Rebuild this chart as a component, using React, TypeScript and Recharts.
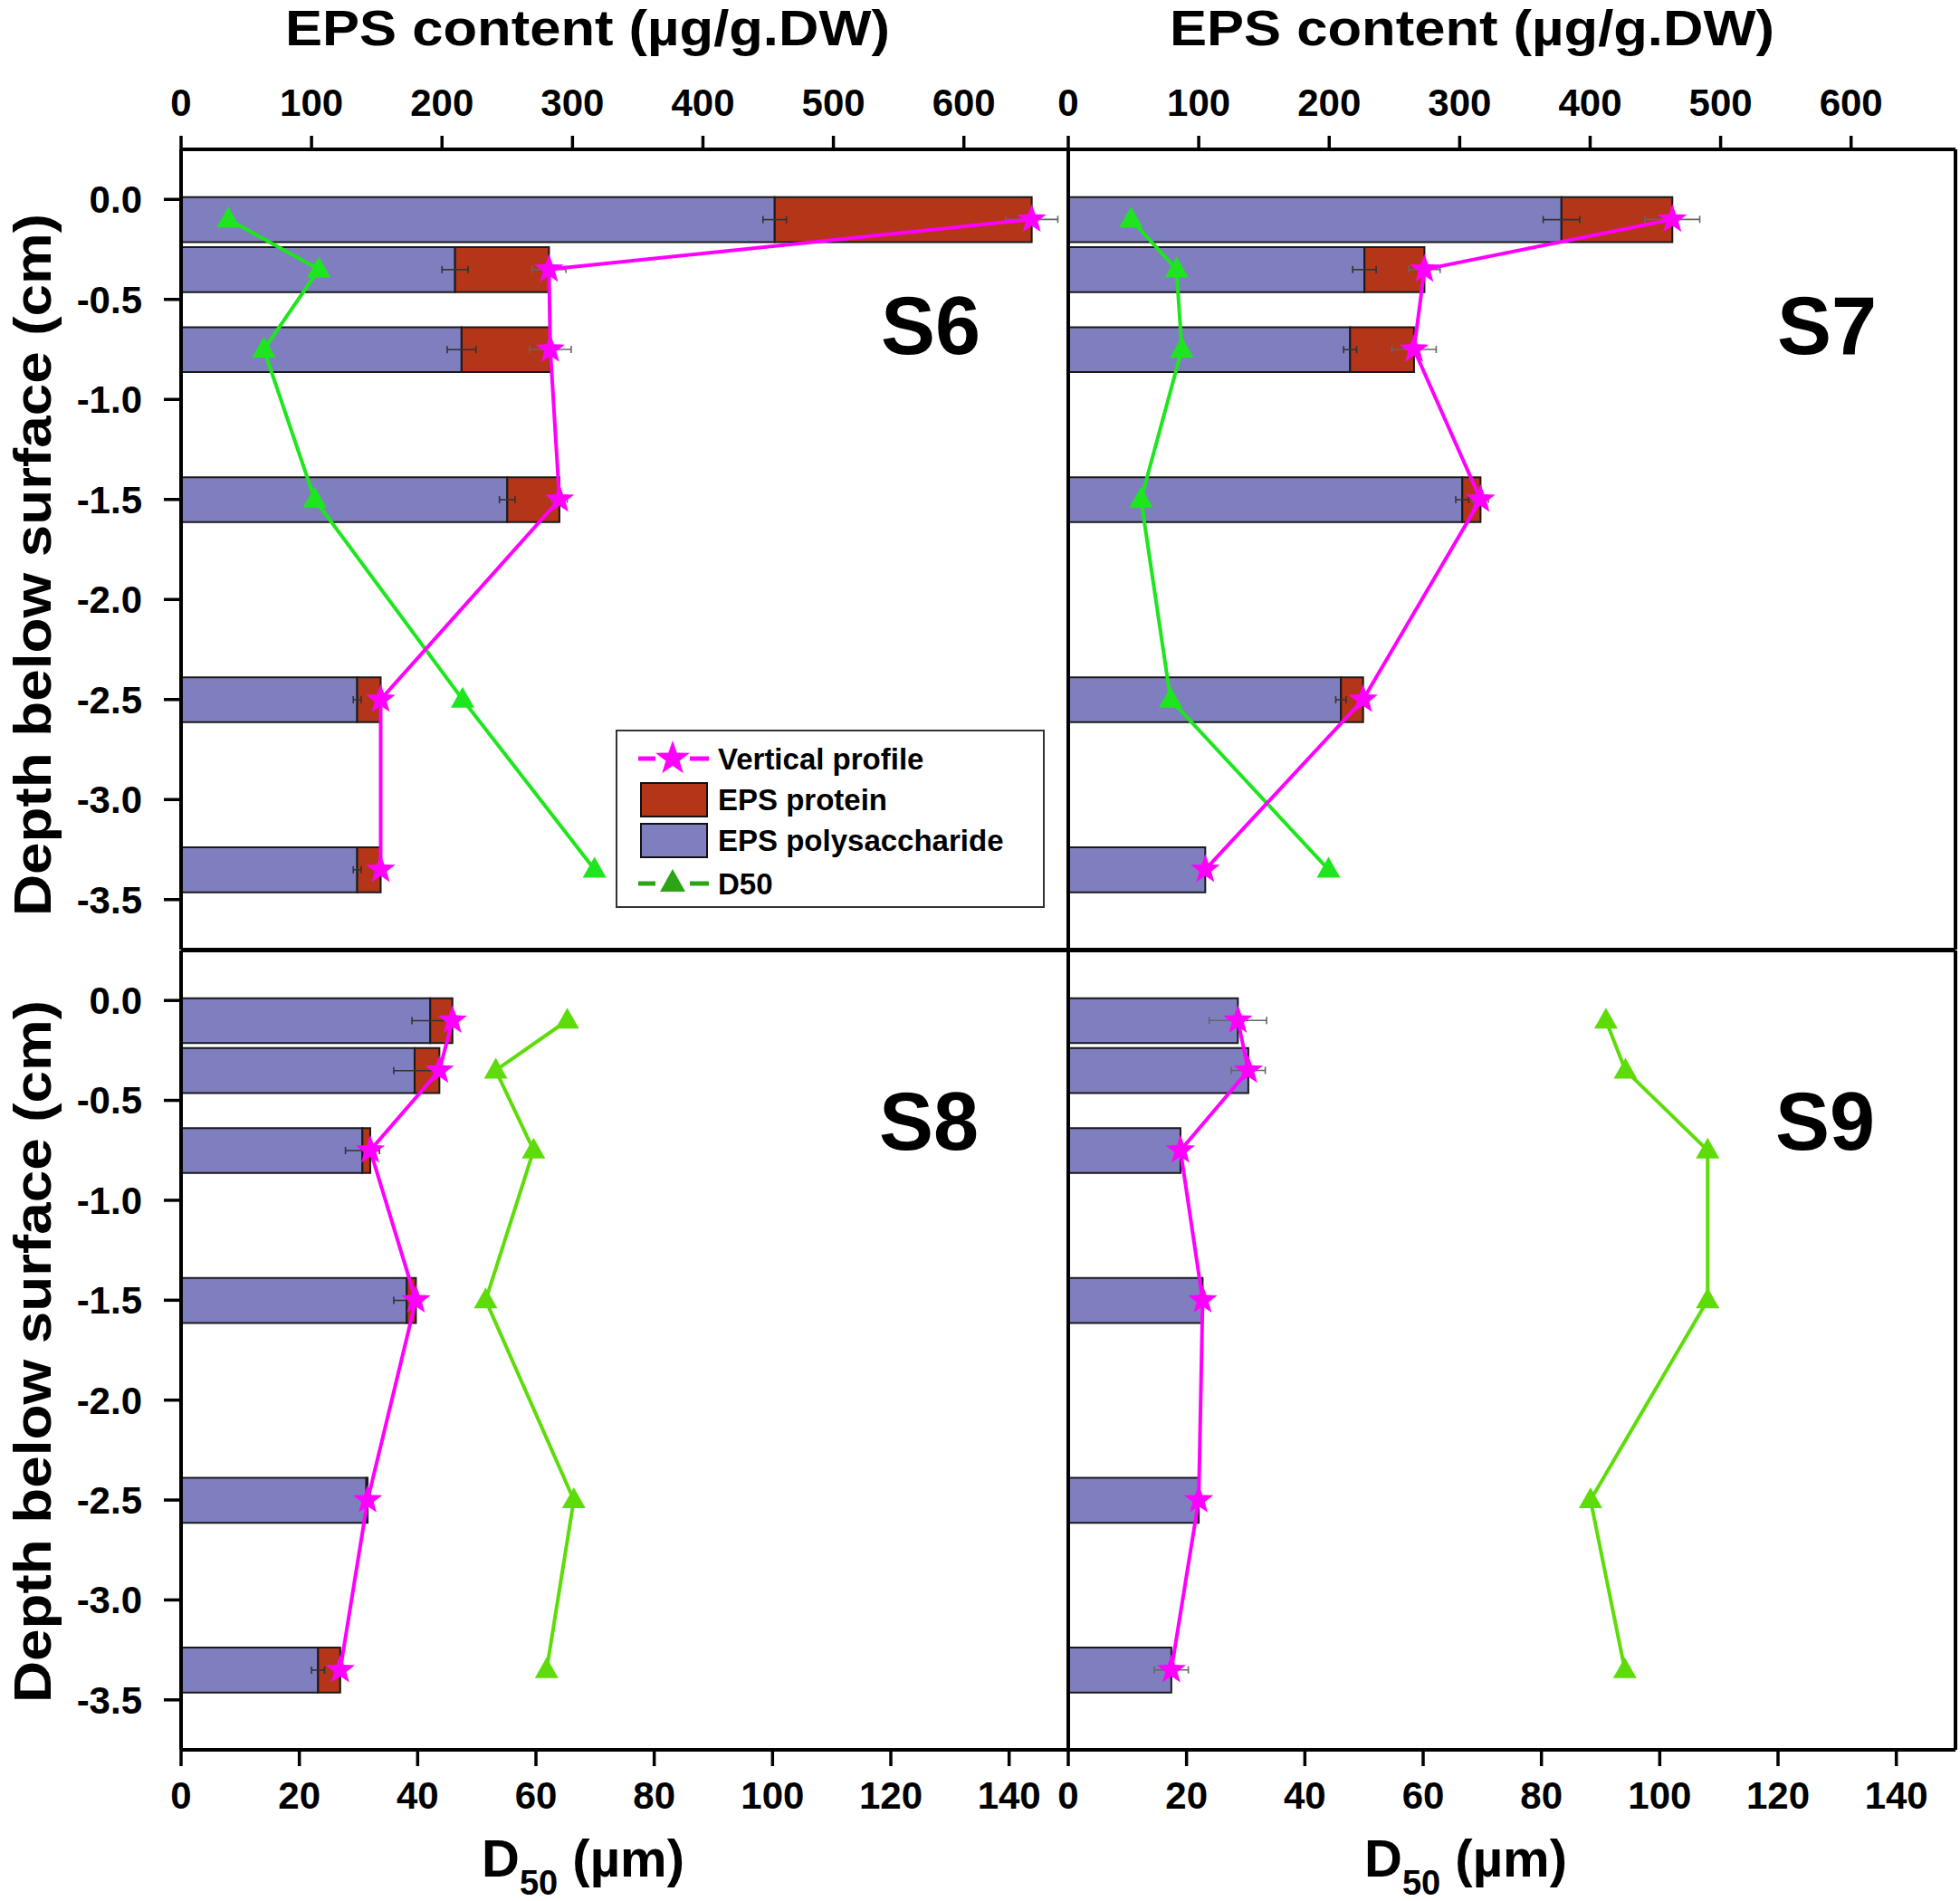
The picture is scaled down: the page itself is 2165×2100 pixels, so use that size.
import React from "react";
import { ComposedChart, Bar, Line, XAxis, YAxis, ErrorBar } from "recharts";

const FONT = '"Liberation Sans", Arial, Helvetica, sans-serif';

// depth of each sampled layer (cm, negative = below surface)
const depths = [-0.1, -0.35, -0.75, -1.5, -2.5, -3.35];

// S6
const s6Poly = [455, 210, 215, 250, 135, 135];
const s6Protein = [197, 72, 68, 40, 18, 18];
const s6PolyErr = [9, 10, 11, 6, 3, 3];
const s6TotalErr = [20, 13, 16, 6, 4, 4];
const s6D50 = [8.0, 23.3, 14.0, 22.6, 47.6, 69.9];

// S7
const s7Poly = [378, 227, 216, 302, 209, 105];
const s7Protein = [85, 46, 49, 14, 17, 0];
const s7PolyErr = [14, 9, 5, 5, 4, 0];
const s7TotalErr = [21, 12, 17, 6, 4, 0];
const s7D50 = [10.6, 18.3, 19.2, 12.3, 17.3, 44.0];

// S8
const s8Poly = [191, 179, 139, 173, 142, 105];
const s8Protein = [17, 19, 6, 7, 1, 17];
const s8PolyErr = [14, 16, 13, 10, 0, 5];
const s8TotalErr = [4, 4, 3, 3, 0, 3];
const s8D50 = [65.3, 53.2, 59.6, 51.5, 66.4, 61.8];

// S9
const s9Poly = [130, 138, 86, 103, 100, 79];
const s9Protein = [0, 0, 0, 0, 0, 0];
const s9PolyErr = [0, 0, 0, 0, 0, 0];
const s9TotalErr = [22, 13, 3, 2, 2, 13];
const s9D50 = [90.9, 94.2, 108.1, 108.1, 88.3, 94.1];

const epsTicks = [0, 100, 200, 300, 400, 500, 600];
const d50Ticks = [0, 20, 40, 60, 80, 100, 120, 140];
const depthTicks = [0, -0.5, -1, -1.5, -2, -2.5, -3, -3.5];

const POLY = "#7f7fbf";
const PROTEIN = "#b53518";
const MAGENTA = "#ff00ff";
const GREEN_TOP = "#1ee61e";
const GREEN_BOTTOM = "#5edc0a";

const buildRows = (
  poly: number[],
  protein: number[],
  polyErr: number[],
  totalErr: number[],
  d50: number[]
) =>
  depths.map((depth, i) => ({
    depth,
    poly: poly[i],
    protein: protein[i],
    total: poly[i] + protein[i],
    polyErr: polyErr[i],
    totalErr: totalErr[i],
    d50: d50[i],
  }));

const starPath = (cx: number, cy: number, R: number, r: number) => {
  let d = "";
  for (let i = 0; i < 10; i++) {
    const rad = i % 2 === 0 ? R : r;
    const a = -Math.PI / 2 + (i * Math.PI) / 5;
    d += (i ? "L" : "M") + (cx + rad * Math.cos(a)).toFixed(1) + "," + (cy + rad * Math.sin(a)).toFixed(1);
  }
  return d + "Z";
};

const triPath = (cx: number, cy: number) =>
  `M${cx},${cy - 14}L${cx + 13},${cy + 9}L${cx - 13},${cy + 9}Z`;

const tickFont = { fontSize: 42, fontWeight: 700, fill: "#000", fontFamily: FONT };
const axisLine = { stroke: "#000", strokeWidth: 4 };
const tickLine = { stroke: "#000", strokeWidth: 3.5 };

const M = 180;

interface PanelProps {
  rows: ReturnType<typeof buildRows>;
  x: number;
  y: number;
  w: number;
  h: number;
  top: boolean;
  left: boolean;
  right: boolean;
  yTicks: boolean;
  green: string;
}

const Panel: React.FC<PanelProps> = ({ rows, x, y, w, h, top, left, right, yTicks, green }) => (
  <div style={{ position: "absolute", left: x - M, top: y - M }}>
    <ComposedChart
      layout="vertical"
      width={w + 2 * M}
      height={h + 2 * M}
      data={rows}
      margin={{ top: M - 1, right: right ? M - 1 : M, bottom: M - 1, left: M - 1 }}
    >
      <YAxis
        yAxisId="d"
        type="number"
        dataKey="depth"
        domain={[-3.75, 0.25]}
        reversed
        allowDataOverflow
        ticks={depthTicks}
        interval={0}
        width={1}
        tickSize={19}
        tickMargin={24}
        tick={left ? tickFont : false}
        tickLine={yTicks ? tickLine : false}
        axisLine={axisLine}
        tickFormatter={(v: number) => v.toFixed(1)}
      />
      {right && (
        <YAxis
          yAxisId="r"
          orientation="right"
          type="number"
          domain={[-3.75, 0.25]}
          width={1}
          tick={false}
          tickLine={false}
          axisLine={axisLine}
        />
      )}
      <XAxis
        xAxisId="eps"
        type="number"
        orientation="top"
        domain={[0, 680]}
        allowDataOverflow
        ticks={epsTicks}
        interval={0}
        height={1}
        tickSize={15}
        tickMargin={22}
        tick={top ? tickFont : false}
        tickLine={top ? tickLine : false}
        axisLine={axisLine}
      />
      <XAxis
        xAxisId="d50"
        type="number"
        orientation="bottom"
        domain={[0, 150]}
        allowDataOverflow
        ticks={d50Ticks}
        interval={0}
        height={1}
        tickSize={18}
        tickMargin={17}
        tick={!top ? tickFont : false}
        tickLine={!top ? tickLine : false}
        axisLine={axisLine}
      />
      <Bar
        yAxisId="d"
        xAxisId="eps"
        dataKey="poly"
        stackId="eps"
        fill={POLY}
        stroke="#1a1a1a"
        strokeWidth={2}
        barSize={56}
        isAnimationActive={false}
      >
        <ErrorBar dataKey="polyErr" direction="x" width={4} stroke="#333" strokeWidth={1.6} />
      </Bar>
      <Bar
        yAxisId="d"
        xAxisId="eps"
        dataKey="protein"
        stackId="eps"
        fill={PROTEIN}
        stroke="#1a1a1a"
        strokeWidth={2}
        barSize={56}
        isAnimationActive={false}
      />
      <Line
        yAxisId="d"
        xAxisId="d50"
        dataKey="d50"
        type="linear"
        stroke={green}
        strokeWidth={4}
        isAnimationActive={false}
        dot={(p: any) => <path key={`t${p.index}`} d={triPath(p.cx, p.cy)} fill={green} />}
        activeDot={false}
      />
      <Line
        yAxisId="d"
        xAxisId="eps"
        dataKey="total"
        type="linear"
        stroke={MAGENTA}
        strokeWidth={4}
        isAnimationActive={false}
        dot={(p: any) => <path key={`s${p.index}`} d={starPath(p.cx, p.cy, 17, 7)} fill={MAGENTA} />}
        activeDot={false}
      >
        <ErrorBar dataKey="totalErr" direction="x" width={4} stroke="#666" strokeWidth={1.6} />
      </Line>
    </ComposedChart>
  </div>
);

const Overlay: React.FC = () => (
  <svg
    width={2165}
    height={2100}
    style={{ position: "absolute", left: 0, top: 0, pointerEvents: "none", fontFamily: FONT }}
  >
    {[649, 1626].map((cx) => (
      <text key={`eps${cx}`} x={cx} y={50} textAnchor="middle" fontSize={56} fontWeight={700} textLength={668} lengthAdjust="spacingAndGlyphs">
        EPS content (µg/g.DW)
      </text>
    ))}
    {[644, 1619].map((cx) => (
      <text key={`d${cx}`} x={cx} y={2073} textAnchor="middle" fontSize={58} fontWeight={700}>
        D
        <tspan fontSize={38} dy={20}>50</tspan>
        <tspan dy={-20}> (µm)</tspan>
      </text>
    ))}
    {[624, 1493].map((cy) => (
      <text key={`y${cy}`} transform={`translate(56,${cy}) rotate(-90)`} textAnchor="middle" fontSize={58} fontWeight={700} textLength={776} lengthAdjust="spacingAndGlyphs">
        Depth below surface (cm)
      </text>
    ))}
    <text x={1083} y={391} textAnchor="end" fontSize={90} fontWeight={700}>S6</text>
    <text x={2073} y={391} textAnchor="end" fontSize={90} fontWeight={700}>S7</text>
    <text x={1081} y={1270} textAnchor="end" fontSize={90} fontWeight={700}>S8</text>
    <text x={2071} y={1270} textAnchor="end" fontSize={90} fontWeight={700}>S9</text>

    <g>
      <rect x={681} y={807} width={472} height={195} fill="#fff" stroke="#333" strokeWidth={2} />
      <line x1={705} y1={838} x2={724} y2={838} stroke={MAGENTA} strokeWidth={5} />
      <line x1={762} y1={838} x2={783} y2={838} stroke={MAGENTA} strokeWidth={5} />
      <path d={starPath(743, 838, 20, 8)} fill={MAGENTA} />
      <rect x={708} y={865} width={73} height={37} fill={PROTEIN} stroke="#111" strokeWidth={2} />
      <rect x={708} y={910} width={73} height={37} fill={POLY} stroke="#111" strokeWidth={2} />
      <line x1={705} y1={976} x2={724} y2={976} stroke="#2ca416" strokeWidth={5} />
      <line x1={762} y1={976} x2={783} y2={976} stroke="#2ca416" strokeWidth={5} />
      <path d="M743,960L757,985L729,985Z" fill="#2ca416" />
      <text x={793} y={850} fontSize={33} fontWeight={700}>Vertical profile</text>
      <text x={793} y={895} fontSize={33} fontWeight={700}>EPS protein</text>
      <text x={793} y={940} fontSize={33} fontWeight={700}>EPS polysaccharide</text>
      <text x={793} y={988} fontSize={33} fontWeight={700}>D50</text>
    </g>
  </svg>
);

const App: React.FC = () => {
  const s6 = buildRows(s6Poly, s6Protein, s6PolyErr, s6TotalErr, s6D50);
  const s7 = buildRows(s7Poly, s7Protein, s7PolyErr, s7TotalErr, s7D50);
  const s8 = buildRows(s8Poly, s8Protein, s8PolyErr, s8TotalErr, s8D50);
  const s9 = buildRows(s9Poly, s9Protein, s9PolyErr, s9TotalErr, s9D50);

  return (
    <div style={{ position: "absolute", left: 0, top: 0, width: 2165, height: 2100, background: "#fff", overflow: "hidden" }}>
      <Panel rows={s6} x={200} y={165} w={980} h={884} top left right={false} yTicks green={GREEN_TOP} />
      <Panel rows={s7} x={1180} y={165} w={980} h={884} top left={false} right yTicks green={GREEN_TOP} />
      <Panel rows={s8} x={200} y={1050} w={980} h={883} top={false} left right={false} yTicks green={GREEN_BOTTOM} />
      <Panel rows={s9} x={1180} y={1050} w={980} h={883} top={false} left={false} right yTicks={false} green={GREEN_BOTTOM} />
      <Overlay />
    </div>
  );
};

export default App;
